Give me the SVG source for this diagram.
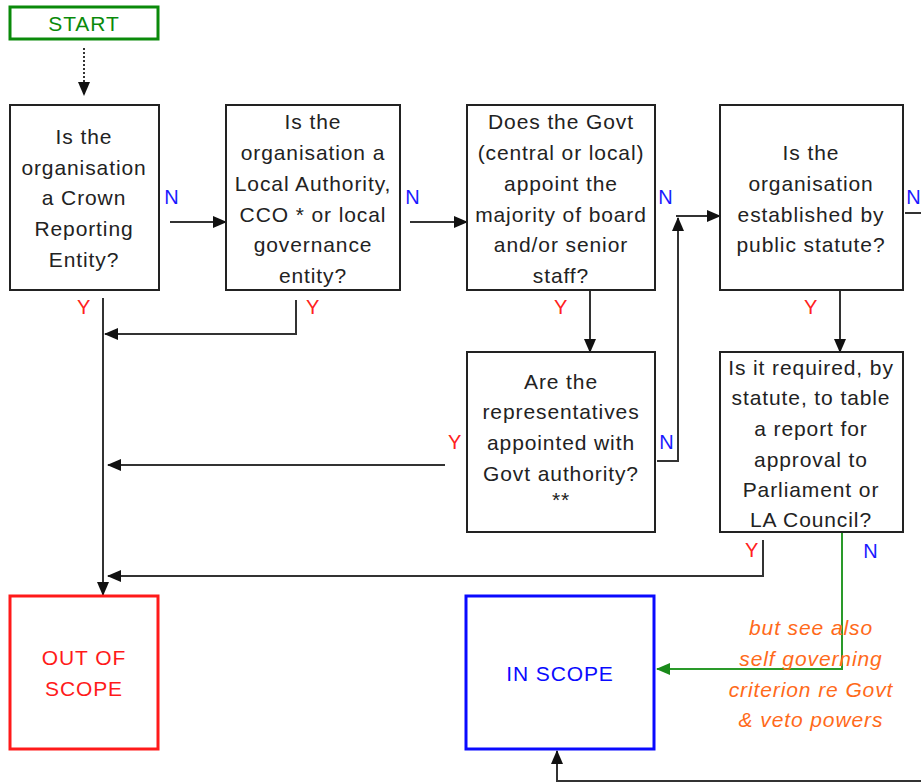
<svg xmlns="http://www.w3.org/2000/svg" width="921" height="783" viewBox="0 0 921 783">
  <style>
    text { font-family: "Liberation Sans", Arial, sans-serif; font-size: 21px; letter-spacing: 0.9px; text-anchor: middle; fill: #222; }
    .box { fill: #fff; stroke: #222; stroke-width: 2; }
    .line { fill: none; stroke: #333; stroke-width: 2; }
    .green { fill: none; stroke: #2a9a2a; stroke-width: 2; }
    .yes { fill: #ff2020; font-size: 20px; }
    .no { fill: #1a1aff; font-size: 20px; }
    .note { fill: #ff6a1a; font-style: italic; }
  </style>
  <defs>
    <marker id="arrow" markerUnits="userSpaceOnUse" markerWidth="14" markerHeight="12" refX="13" refY="6" orient="auto">
      <path d="M0,0 L14,6 L0,12 Z" fill="#111"/>
    </marker>
    <marker id="arrowGreen" markerUnits="userSpaceOnUse" markerWidth="14" markerHeight="12" refX="13" refY="6" orient="auto">
      <path d="M0,0 L14,6 L0,12 Z" fill="#1a8a1a"/>
    </marker>
  </defs>

  <!-- connectors -->
  <g id="connectors">
    <path class="line" d="M84,48 V95" stroke-dasharray="2,2" marker-end="url(#arrow)"/>
    <path class="line" d="M170,222 H226" marker-end="url(#arrow)"/>
    <path class="line" d="M410,222 H467" marker-end="url(#arrow)"/>
    <path class="line" d="M676,216 H720" marker-end="url(#arrow)"/>
    <path class="line" d="M905,213 H921"/>
    <path class="line" d="M296,300 V334 H105" marker-end="url(#arrow)"/>
    <path class="line" d="M103,298 V595" marker-end="url(#arrow)"/>
    <path class="line" d="M590,290 V352" marker-end="url(#arrow)"/>
    <path class="line" d="M840,290 V352" marker-end="url(#arrow)"/>
    <path class="line" d="M445,465 H108" marker-end="url(#arrow)"/>
    <path class="line" d="M657,461 H678 V218" marker-end="url(#arrow)"/>
    <path class="line" d="M763,540 V576 H108" marker-end="url(#arrow)"/>
    <path class="green" d="M842,532 V669 H657" marker-end="url(#arrowGreen)"/>
    <path class="line" d="M921,781 H557 V751" marker-end="url(#arrow)"/>

    <text class="no" x="172" y="204">N</text>
    <text class="no" x="413" y="204">N</text>
    <text class="no" x="666" y="204">N</text>
    <text class="no" x="914" y="204">N</text>
    <text class="yes" x="84" y="314">Y</text>
    <text class="yes" x="313" y="314">Y</text>
    <text class="yes" x="561" y="314">Y</text>
    <text class="yes" x="811" y="314">Y</text>
    <text class="yes" x="455" y="449">Y</text>
    <text class="no" x="667" y="449">N</text>
    <text class="yes" x="752" y="557">Y</text>
    <text class="no" x="871" y="558">N</text>
  </g>

  <g id="start">
    <rect x="10" y="7" width="148" height="32" fill="#fff" stroke="#0a8a0a" stroke-width="3"/>
    <text x="84" y="31" fill="#0a8a0a" style="fill:#0a8a0a">START</text>
  </g>

  <g id="crown-entity">
    <rect class="box" x="10" y="105" width="149" height="185"/>
    <text x="84" y="144">Is the</text>
    <text x="84" y="175">organisation</text>
    <text x="84" y="205">a Crown</text>
    <text x="84" y="236">Reporting</text>
    <text x="84" y="267">Entity?</text>
  </g>

  <g id="local-authority">
    <rect class="box" x="226" y="105" width="174" height="185"/>
    <text x="313" y="129">Is the</text>
    <text x="313" y="160">organisation a</text>
    <text x="313" y="191">Local Authority,</text>
    <text x="313" y="222">CCO * or local</text>
    <text x="313" y="252">governance</text>
    <text x="313" y="283">entity?</text>
  </g>

  <g id="govt-appoints">
    <rect class="box" x="467" y="105" width="188" height="185"/>
    <text x="561" y="129">Does the Govt</text>
    <text x="561" y="160">(central or local)</text>
    <text x="561" y="191">appoint the</text>
    <text x="561" y="222">majority of board</text>
    <text x="561" y="252">and/or senior</text>
    <text x="561" y="283">staff?</text>
  </g>

  <g id="public-statute">
    <rect class="box" x="720" y="105" width="183" height="185"/>
    <text x="811" y="160">Is the</text>
    <text x="811" y="191">organisation</text>
    <text x="811" y="222">established by</text>
    <text x="811" y="252">public statute?</text>
  </g>

  <g id="representatives">
    <rect class="box" x="467" y="352" width="188" height="180"/>
    <text x="561" y="389">Are the</text>
    <text x="561" y="419">representatives</text>
    <text x="561" y="450">appointed with</text>
    <text x="561" y="481">Govt authority?</text>
    <text x="561" y="507">**</text>
  </g>

  <g id="table-report">
    <rect class="box" x="720" y="352" width="183" height="180"/>
    <text x="811" y="375">Is it required, by</text>
    <text x="811" y="405">statute, to table</text>
    <text x="811" y="436">a report for</text>
    <text x="811" y="467">approval to</text>
    <text x="811" y="497">Parliament or</text>
    <text x="811" y="527">LA Council?</text>
  </g>

  <g id="out-of-scope">
    <rect x="10" y="596" width="148" height="153" fill="#fff" stroke="#ff1a1a" stroke-width="3"/>
    <text x="84" y="665" style="fill:#ff1a1a">OUT OF</text>
    <text x="84" y="696" style="fill:#ff1a1a">SCOPE</text>
  </g>

  <g id="in-scope">
    <rect x="466" y="596" width="188" height="153" fill="#fff" stroke="#0a0aff" stroke-width="3"/>
    <text x="560" y="681" style="fill:#0a0aff">IN SCOPE</text>
  </g>

  <g id="note">
    <text class="note" x="811" y="635">but see also</text>
    <text class="note" x="811" y="666">self governing</text>
    <text class="note" x="811" y="697">criterion re Govt</text>
    <text class="note" x="811" y="727">&amp; veto powers</text>
  </g>
</svg>
